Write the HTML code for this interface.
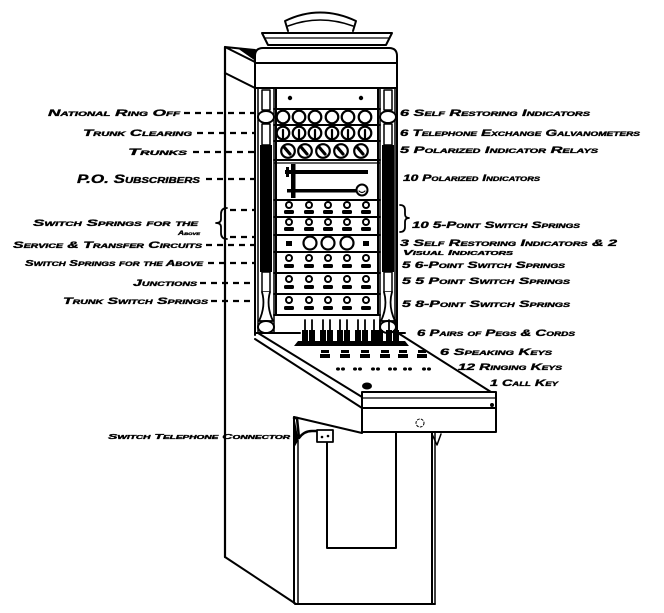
<!DOCTYPE html>
<html><head><meta charset="utf-8"><style>
html,body{margin:0;padding:0;background:#fff;}
svg{display:block;}
text{font-family:"Liberation Sans",sans-serif;font-weight:bold;font-style:italic;font-variant:small-caps;fill:#000;stroke:#000;stroke-width:0.35;}
</style></head><body>
<svg width="664" height="613" viewBox="0 0 664 613" xmlns="http://www.w3.org/2000/svg">
<rect width="664" height="613" fill="#fff"/>
<g fill="none" stroke="#000" stroke-width="2" stroke-linejoin="round" stroke-linecap="round">
  <!-- dome & tray -->
  <path d="M288,31 L285,21 Q320,4 356,21 L353,31" fill="#fff"/>
  <path d="M288,26 Q320,14 353,26" stroke-width="1.5"/>
  <polygon points="262,33 392,33 386,45 268,45" fill="#fff"/>
  <line x1="265" y1="38" x2="389" y2="38" stroke-width="1.2"/>
  <!-- head box -->
  <path d="M255,88 L255,56 Q255,48 263,48 L389,48 Q397,48 397,56 L397,88 Z"/>
  <line x1="255" y1="63" x2="397" y2="63"/>
  <!-- side panel -->
  <line x1="225" y1="47" x2="225" y2="557" stroke-width="2.2"/>
  <path d="M255,50 L225,47 L255,62"/>
  <polygon points="238,48 255,50 255,60" fill="#000" stroke-width="1"/>
  <line x1="225" y1="73" x2="255" y2="88"/>
  <!-- cabinet front edges -->
  <line x1="255" y1="88" x2="255" y2="335"/>
  <line x1="397" y1="88" x2="397" y2="335"/>
  <!-- columns -->
  <line x1="258" y1="88" x2="258" y2="333" stroke-width="1.5"/>
  <line x1="274" y1="88" x2="274" y2="333" stroke-width="1.5"/>
  <line x1="380" y1="88" x2="380" y2="333" stroke-width="1.5"/>
  <line x1="395" y1="88" x2="395" y2="333" stroke-width="1.5"/>
  <!-- left column details -->
  <rect x="262" y="90" width="8" height="20" stroke-width="1.5" fill="#fff"/>
  <ellipse cx="266" cy="117" rx="8" ry="6" fill="#fff"/>
  <rect x="262" y="124" width="8" height="21" stroke-width="1.5" fill="#fff"/>
  <rect x="260" y="145" width="12" height="127" fill="#000" stroke="none"/>
  <rect x="262" y="272" width="8" height="20" stroke-width="1.5" fill="#fff"/>
  <path d="M262,292 Q266,306 259,321 L273,321 Q266,306 270,292" fill="#fff" stroke-width="1.8"/>
  <ellipse cx="266" cy="327" rx="8" ry="6" fill="#fff"/>
  <!-- right column details -->
  <rect x="384" y="90" width="8" height="20" stroke-width="1.5" fill="#fff"/>
  <ellipse cx="388" cy="117" rx="8" ry="6" fill="#fff"/>
  <rect x="384" y="124" width="8" height="21" stroke-width="1.5" fill="#fff"/>
  <rect x="382" y="145" width="12" height="127" fill="#000" stroke="none"/>
  <rect x="384" y="272" width="8" height="20" stroke-width="1.5" fill="#fff"/>
  <path d="M384,292 Q388,306 381,321 L395,321 Q388,306 392,292" fill="#fff" stroke-width="1.8"/>
  <ellipse cx="388" cy="327" rx="8" ry="6" fill="#fff"/>
  <!-- inner panel -->
  <line x1="276" y1="88" x2="276" y2="315"/>
  <line x1="378" y1="88" x2="378" y2="315"/>
  <g stroke-width="2">
    <line x1="274" y1="109" x2="380" y2="109"/>
    <line x1="274" y1="125" x2="380" y2="125"/>
    <line x1="274" y1="141" x2="380" y2="141"/>
    <line x1="274" y1="160" x2="380" y2="160"/>
    <line x1="274" y1="163" x2="380" y2="163" stroke-width="1.2"/>
    <line x1="274" y1="200" x2="380" y2="200"/>
    <line x1="274" y1="217" x2="380" y2="217"/>
    <line x1="274" y1="235" x2="380" y2="235"/>
    <line x1="274" y1="252" x2="380" y2="252"/>
    <line x1="274" y1="273" x2="380" y2="273"/>
    <line x1="274" y1="294" x2="380" y2="294"/>
    <line x1="274" y1="315" x2="380" y2="315"/>
  </g>
  <circle cx="290" cy="98" r="1.2" fill="#000"/>
  <circle cx="361" cy="98" r="1.2" fill="#000"/>
  <!-- row1 self-restoring indicators -->
  <g stroke-width="2.2">
    <circle cx="283" cy="117" r="6.3"/><circle cx="299" cy="117" r="6.3"/><circle cx="315" cy="117" r="6.3"/>
    <circle cx="332" cy="117" r="6.3"/><circle cx="348" cy="117" r="6.3"/><circle cx="365" cy="117" r="6.3"/>
  </g>
  <!-- row2 galvanometers -->
  <g stroke-width="2.2">
    <circle cx="283" cy="133" r="6.3"/><circle cx="299" cy="133" r="6.3"/><circle cx="315" cy="133" r="6.3"/>
    <circle cx="332" cy="133" r="6.3"/><circle cx="348" cy="133" r="6.3"/><circle cx="365" cy="133" r="6.3"/>
    <line x1="283" y1="130" x2="283" y2="139"/><line x1="299" y1="130" x2="299" y2="139"/><line x1="315" y1="130" x2="315" y2="139"/>
    <line x1="332" y1="130" x2="332" y2="139"/><line x1="348" y1="130" x2="348" y2="139"/><line x1="365" y1="130" x2="365" y2="139"/>
  </g>
  <!-- row3 polarized relays -->
  <g stroke-width="2.2">
    <circle cx="288" cy="151" r="6.8"/><circle cx="305" cy="151" r="6.8"/><circle cx="323" cy="151" r="6.8"/>
    <circle cx="341" cy="151" r="6.8"/><circle cx="361" cy="151" r="6.8"/>
  </g>
  <g stroke-width="3.2">
    <line x1="284" y1="147" x2="290" y2="154"/><line x1="301" y1="147" x2="307" y2="154"/><line x1="319" y1="147" x2="325" y2="154"/>
    <line x1="337" y1="147" x2="343" y2="154"/><line x1="357" y1="147" x2="363" y2="154"/>
  </g>
  <!-- row4 polarized indicators -->
  <rect x="285" y="170" width="83" height="4" fill="#000" stroke="none"/>
  <rect x="287" y="189" width="70" height="3.5" fill="#000" stroke="none"/>
  <rect x="291" y="164" width="4.5" height="34" fill="#000" stroke="none"/>
  <rect x="286" y="167" width="3" height="10" fill="#000" stroke="none"/>
  <circle cx="362" cy="190" r="5.5" stroke-width="2" fill="#fff"/>
  <path d="M359,191 Q362,194 365,191" stroke-width="1.2"/>
  <!-- switch spring rows -->
  <g fill="#fff" stroke-width="2">
    <circle cx="289" cy="205" r="3"/><circle cx="309" cy="205" r="3"/><circle cx="328" cy="205" r="3"/><circle cx="347" cy="205" r="3"/><circle cx="366" cy="205" r="3"/>
    <circle cx="289" cy="222" r="3"/><circle cx="309" cy="222" r="3"/><circle cx="328" cy="222" r="3"/><circle cx="347" cy="222" r="3"/><circle cx="366" cy="222" r="3"/>
    <circle cx="289" cy="258" r="3"/><circle cx="309" cy="258" r="3"/><circle cx="328" cy="258" r="3"/><circle cx="347" cy="258" r="3"/><circle cx="366" cy="258" r="3"/>
    <circle cx="289" cy="279" r="3"/><circle cx="309" cy="279" r="3"/><circle cx="328" cy="279" r="3"/><circle cx="347" cy="279" r="3"/><circle cx="366" cy="279" r="3"/>
    <circle cx="289" cy="300" r="3"/><circle cx="309" cy="300" r="3"/><circle cx="328" cy="300" r="3"/><circle cx="347" cy="300" r="3"/><circle cx="366" cy="300" r="3"/>
  </g>
  <g fill="#000" stroke="none">
    <rect x="284" y="210" width="10" height="4" rx="1.5"/><rect x="304" y="210" width="10" height="4" rx="1.5"/><rect x="323" y="210" width="10" height="4" rx="1.5"/><rect x="342" y="210" width="10" height="4" rx="1.5"/><rect x="361" y="210" width="10" height="4" rx="1.5"/>
    <rect x="284" y="227" width="10" height="4" rx="1.5"/><rect x="304" y="227" width="10" height="4" rx="1.5"/><rect x="323" y="227" width="10" height="4" rx="1.5"/><rect x="342" y="227" width="10" height="4" rx="1.5"/><rect x="361" y="227" width="10" height="4" rx="1.5"/>
    <rect x="284" y="264" width="10" height="4" rx="1.5"/><rect x="304" y="264" width="10" height="4" rx="1.5"/><rect x="323" y="264" width="10" height="4" rx="1.5"/><rect x="342" y="264" width="10" height="4" rx="1.5"/><rect x="361" y="264" width="10" height="4" rx="1.5"/>
    <rect x="284" y="285" width="10" height="4" rx="1.5"/><rect x="304" y="285" width="10" height="4" rx="1.5"/><rect x="323" y="285" width="10" height="4" rx="1.5"/><rect x="342" y="285" width="10" height="4" rx="1.5"/><rect x="361" y="285" width="10" height="4" rx="1.5"/>
    <rect x="284" y="306" width="10" height="4" rx="1.5"/><rect x="304" y="306" width="10" height="4" rx="1.5"/><rect x="323" y="306" width="10" height="4" rx="1.5"/><rect x="342" y="306" width="10" height="4" rx="1.5"/><rect x="361" y="306" width="10" height="4" rx="1.5"/>
    <rect x="286" y="241" width="6" height="5"/><rect x="363" y="241" width="6" height="5"/>
  </g>
  <g stroke-width="2.2" fill="#fff">
    <circle cx="310" cy="243" r="6.5"/><circle cx="328" cy="243" r="6.5"/><circle cx="347" cy="243" r="6.5"/>
  </g>
  <!-- pegs -->
  <g stroke-width="1.8">
    <line x1="305" y1="320" x2="305" y2="342"/><line x1="312" y1="320" x2="312" y2="342"/>
    <line x1="323" y1="320" x2="323" y2="342"/><line x1="330" y1="320" x2="330" y2="342"/>
    <line x1="340" y1="320" x2="340" y2="342"/><line x1="347" y1="320" x2="347" y2="342"/>
    <line x1="358" y1="320" x2="358" y2="342"/><line x1="365" y1="320" x2="365" y2="342"/>
    <line x1="374" y1="320" x2="374" y2="342"/><line x1="380" y1="320" x2="380" y2="342"/>
    <line x1="389" y1="320" x2="389" y2="342"/><line x1="396" y1="320" x2="396" y2="342"/>
  </g>
  <g fill="#000" stroke="none">
    <rect x="302" y="330" width="6" height="12"/><rect x="309" y="330" width="6" height="12"/>
    <rect x="320" y="330" width="6" height="12"/><rect x="327" y="330" width="6" height="12"/>
    <rect x="337" y="330" width="6" height="12"/><rect x="344" y="330" width="6" height="12"/>
    <rect x="355" y="330" width="6" height="12"/><rect x="362" y="330" width="6" height="12"/>
    <rect x="371" y="330" width="6" height="12"/><rect x="377" y="330" width="6" height="12"/>
    <rect x="386" y="330" width="6" height="12"/><rect x="393" y="330" width="6" height="12"/>
    <polygon points="298,341 405,341 409,346 294,346"/>
  </g>
  <line x1="255" y1="333" x2="300" y2="333"/>
  <line x1="397" y1="333" x2="405" y2="333"/>
  <!-- shelf -->
  <line x1="258" y1="333" x2="362" y2="397"/>
  <line x1="255" y1="339" x2="362" y2="408"/>
  <line x1="398" y1="333" x2="491" y2="392"/>
  <rect x="362" y="392" width="134" height="40" fill="#fff"/>
  <line x1="362" y1="398" x2="496" y2="398" stroke-width="1.3"/>
  <line x1="362" y1="408" x2="496" y2="408"/>
  <circle cx="492" cy="405" r="1" fill="#000"/>
  <circle cx="420" cy="423" r="4" stroke-width="1" stroke-dasharray="2 2"/>
  <!-- speaking keys -->
  <g fill="#000" stroke="none">
    <rect x="321" y="350" width="8" height="3"/><rect x="320" y="354" width="10" height="4"/>
    <rect x="341" y="350" width="8" height="3"/><rect x="340" y="354" width="10" height="4"/>
    <rect x="361" y="350" width="8" height="3"/><rect x="360" y="354" width="10" height="4"/>
    <rect x="381" y="350" width="8" height="3"/><rect x="380" y="354" width="10" height="4"/>
    <rect x="399" y="350" width="8" height="3"/><rect x="398" y="354" width="10" height="4"/>
    <rect x="418" y="350" width="8" height="3"/><rect x="417" y="354" width="10" height="4"/>
  </g>
  <!-- ringing keys -->
  <g fill="#000" stroke="none">
    <ellipse cx="338" cy="369" rx="2" ry="1.6"/><ellipse cx="343" cy="369" rx="2" ry="1.6"/>
    <ellipse cx="355" cy="369" rx="2" ry="1.6"/><ellipse cx="360" cy="369" rx="2" ry="1.6"/>
    <ellipse cx="373" cy="369" rx="2" ry="1.6"/><ellipse cx="378" cy="369" rx="2" ry="1.6"/>
    <ellipse cx="390" cy="369" rx="2" ry="1.6"/><ellipse cx="395" cy="369" rx="2" ry="1.6"/>
    <ellipse cx="405" cy="369" rx="2" ry="1.6"/><ellipse cx="410" cy="369" rx="2" ry="1.6"/>
    <ellipse cx="424" cy="369" rx="2" ry="1.6"/><ellipse cx="429" cy="369" rx="2" ry="1.6"/>
    <ellipse cx="367" cy="386" rx="5" ry="3.5"/>
  </g>
  <!-- pedestal -->
  <line x1="294" y1="417" x2="362" y2="433"/>
  <line x1="294" y1="417" x2="294" y2="603"/>
  <line x1="298" y1="440" x2="298" y2="603" stroke-width="1.5"/>
  <line x1="225" y1="557" x2="296" y2="604"/>
  <line x1="295" y1="604" x2="435" y2="604"/>
  <path d="M327,433 L327,548 L396,548 L396,433"/>
  <line x1="432" y1="433" x2="432" y2="603"/>
  <line x1="435" y1="433" x2="435" y2="603" stroke-width="1.5"/>
  <path d="M432,434 L437,445 L441,434" stroke-width="1.5"/>
  <!-- connector bracket -->
  <path d="M294,418 L297,418 L299,438 Q304,431 312,431 L317,431" stroke-width="2.5"/>
  <path d="M294,418 L294,447 L298,440 Z" fill="#000" stroke-width="1"/>
  <rect x="317" y="430" width="16" height="12" fill="#fff" stroke-width="1.8"/>
  <circle cx="322" cy="437" r="1.3" fill="#000" stroke="none"/>
  <circle cx="328" cy="436" r="1.3" fill="#000" stroke="none"/>
  <!-- braces -->
  <path d="M227,208 Q221,208 221,214 L221,219 Q221,223 216,223 Q221,223 221,227 L221,233 Q221,239 227,239" stroke-width="1.8"/>
  <path d="M400,205 Q405,205 405,210 L405,214 Q405,218 409,218 Q405,218 405,222 L405,227 Q405,232 400,232" stroke-width="1.8"/>
  <!-- dashed leaders -->
  <g stroke-width="2.2" stroke-dasharray="6 5" stroke-linecap="butt">
    <line x1="184" y1="113" x2="256" y2="113"/>
    <line x1="197" y1="133" x2="256" y2="133"/>
    <line x1="193" y1="152" x2="256" y2="152"/>
    <line x1="206" y1="179" x2="256" y2="179"/>
    <line x1="230" y1="210" x2="256" y2="210"/>
    <line x1="230" y1="237" x2="256" y2="237"/>
    <line x1="206" y1="245" x2="256" y2="245"/>
    <line x1="208" y1="263" x2="256" y2="263"/>
    <line x1="200" y1="283" x2="256" y2="283"/>
    <line x1="211" y1="301" x2="256" y2="301"/>
  </g>
</g>
<!-- left labels -->
<g font-size="9">
  <text x="48" y="116" textLength="132" lengthAdjust="spacingAndGlyphs">National Ring Off</text>
  <text x="83" y="136" textLength="109" lengthAdjust="spacingAndGlyphs">Trunk Clearing</text>
  <text x="128" y="155" textLength="59" lengthAdjust="spacingAndGlyphs">Trunks</text>
  <text x="77" y="183" font-size="12" textLength="123" lengthAdjust="spacingAndGlyphs">P.O. Subscribers</text>
  <text x="33" y="226" textLength="165" lengthAdjust="spacingAndGlyphs">Switch Springs for the</text>
  <text x="178" y="235" font-size="6" textLength="22" lengthAdjust="spacingAndGlyphs">Above</text>
  <text x="13" y="248" textLength="189" lengthAdjust="spacingAndGlyphs">Service &amp; Transfer Circuits</text>
  <text x="25" y="266" font-size="8" textLength="178" lengthAdjust="spacingAndGlyphs">Switch Springs for the Above</text>
  <text x="133" y="286" textLength="64" lengthAdjust="spacingAndGlyphs">Junctions</text>
  <text x="63" y="304" textLength="145" lengthAdjust="spacingAndGlyphs">Trunk Switch Springs</text>
  <text x="108" y="439" font-size="7" textLength="182" lengthAdjust="spacingAndGlyphs">Switch Telephone Connector</text>
</g>
<!-- right labels -->
<g font-size="9">
  <text x="400" y="116" textLength="190" lengthAdjust="spacingAndGlyphs">6 Self Restoring Indicators</text>
  <text x="400" y="136" textLength="240" lengthAdjust="spacingAndGlyphs">6 Telephone Exchange Galvanometers</text>
  <text x="400" y="153" textLength="198" lengthAdjust="spacingAndGlyphs">5 Polarized Indicator Relays</text>
  <text x="403" y="181" textLength="137" lengthAdjust="spacingAndGlyphs">10 Polarized Indicators</text>
  <text x="412" y="228" textLength="168" lengthAdjust="spacingAndGlyphs">10  5-Point Switch Springs</text>
  <text x="400" y="246" textLength="217" lengthAdjust="spacingAndGlyphs">3 Self Restoring Indicators &amp; 2</text>
  <text x="403" y="255" font-size="7" textLength="110" lengthAdjust="spacingAndGlyphs">Visual Indicators</text>
  <text x="402" y="268" textLength="163" lengthAdjust="spacingAndGlyphs">5  6-Point Switch Springs</text>
  <text x="402" y="284" textLength="168" lengthAdjust="spacingAndGlyphs">5  5 Point Switch Springs</text>
  <text x="402" y="307" textLength="168" lengthAdjust="spacingAndGlyphs">5  8-Point Switch Springs</text>
  <text x="417" y="336" textLength="158" lengthAdjust="spacingAndGlyphs">6 Pairs of Pegs &amp; Cords</text>
  <text x="440" y="355" textLength="112" lengthAdjust="spacingAndGlyphs">6 Speaking Keys</text>
  <text x="458" y="370" textLength="104" lengthAdjust="spacingAndGlyphs">12 Ringing Keys</text>
  <text x="490" y="386" textLength="68" lengthAdjust="spacingAndGlyphs">1 Call Key</text>
</g>
</svg>
</body></html>
